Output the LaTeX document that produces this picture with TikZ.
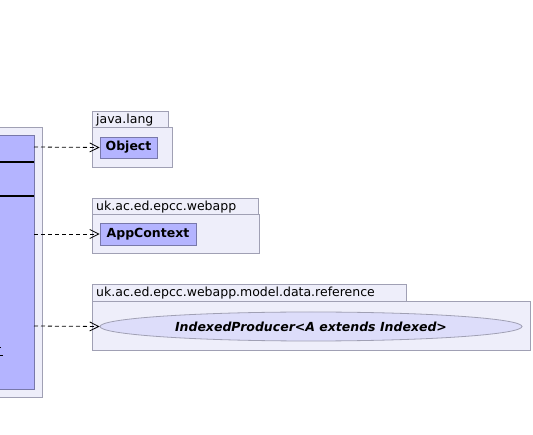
\documentclass[tikz,border=0pt]{standalone}
\usepackage{fontspec}
\setmainfont{DejaVu Sans}
\usetikzlibrary{arrows.meta,shapes.geometric}

\definecolor{pkgfill}{RGB}{238,238,250}
\definecolor{pkgline}{RGB}{160,160,180}
\definecolor{clsfill}{RGB}{180,180,255}
\definecolor{clsline}{RGB}{120,120,170}
\definecolor{ifcfill}{RGB}{221,221,250}

\tikzset{
  pkg/.style={draw=pkgline, fill=pkgfill, line width=0.8pt},
  pkgname/.style={anchor=base west, inner sep=0pt, font=\fontsize{12.5}{14}\selectfont},
  cls/.style={draw=clsline, fill=clsfill, line width=0.8pt, inner sep=0pt, font=\fontsize{12.5}{14}\selectfont\bfseries},
  ifc/.style={ellipse, draw=pkgline, fill=ifcfill, line width=0.8pt, inner sep=0pt, font=\fontsize{12.5}{14}\selectfont\bfseries\itshape},
  dep/.style={dashed, dash pattern=on 4pt off 3pt, line width=0.8pt, -{Straight Barb[length=9pt,width=9pt]}}
}

\begin{document}
\begin{tikzpicture}[x=1pt, y=-1pt]
  \useasboundingbox[fill=white] (0,0) rectangle (533,435);
  \clip (0,0) rectangle (533,435);

  % Left package and class (cut off)
  \draw[pkg] (-10,127) rectangle (42,397);
  \draw[cls] (-10,135) rectangle (34,389);
  \draw[line width=1.2pt] (-10,162) -- (34,162);
  \draw[line width=1.8pt] (-10,196) -- (34,196);
  \draw[line width=0.9pt] (-1,347.5) -- (1,347.5);
  \draw[line width=0.9pt] (-1,355.5) -- (3,355.5);
  \coordinate (src1) at (34,147);
  \coordinate (src2) at (34,234);
  \coordinate (src3) at (34,326);

  % java.lang
  \draw[pkg] (92,111) rectangle (168,127);
  \draw[pkg] (92,127) rectangle (172,167);
  \node[pkgname] at (96,123.5) {java.lang};
  \node[cls, minimum width=57pt, minimum height=21pt] (object) at (128.5,147.5) {Object};

  % uk.ac.ed.epcc.webapp
  \draw[pkg] (92,198) rectangle (258,214);
  \draw[pkg] (92,214) rectangle (259,253);
  \node[pkgname] at (96,210.5) {uk.ac.ed.epcc.webapp};
  \node[cls, minimum width=96pt, minimum height=22pt] (appcontext) at (148,234) {AppContext};

  % uk.ac.ed.epcc.webapp.model.data.reference
  \draw[pkg] (92,284) rectangle (406,301);
  \draw[pkg] (92,301) rectangle (530,350);
  \node[pkgname] at (96,297) {uk.ac.ed.epcc.webapp.model.data.reference};
  \node[ifc, minimum width=422pt, minimum height=29pt] (producer) at (311,326.5) {IndexedProducer<A extends Indexed>};

  % Dependencies
  \draw[dep] (src1) -- (object.west);
  \draw[dep] (src2) -- (appcontext.west);
  \draw[dep] (src3) -- (producer.west);
\end{tikzpicture}
\end{document}
